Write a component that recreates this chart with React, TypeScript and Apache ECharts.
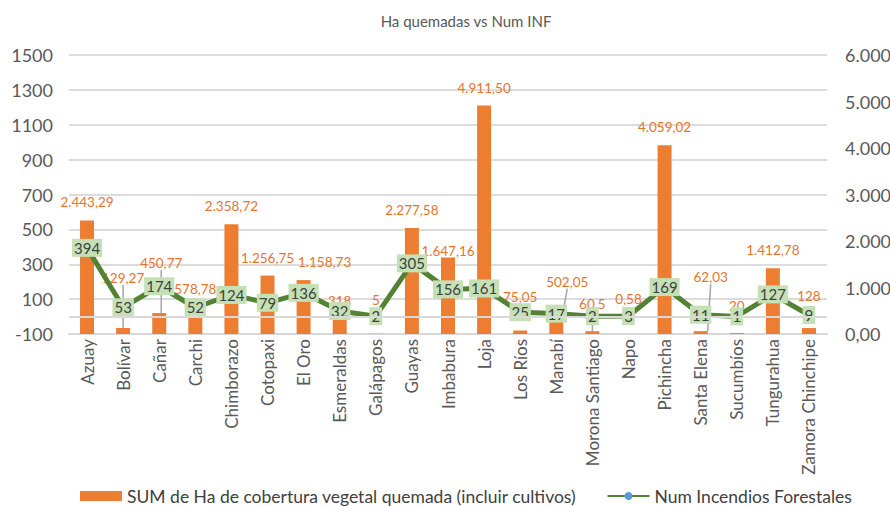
import React, { useEffect, useRef } from "react";
import * as echarts from "echarts";

const categories = [
  "Azuay", "Bolívar", "Cañar", "Carchi", "Chimborazo", "Cotopaxi", "El Oro",
  "Esmeraldas", "Galápagos", "Guayas", "Imbabura", "Loja", "Los Ríos", "Manabí",
  "Morona Santiago", "Napo", "Pichincha", "Santa Elena", "Sucumbíos", "Tungurahua",
  "Zamora Chinchipe",
];

const haQuemadas = [
  2443.29, 129.27, 450.77, 578.78, 2358.72, 1256.75, 1158.73, 318, 5, 2277.58,
  1647.16, 4911.5, 75.05, 502.05, 60.5, 0.58, 4059.02, 62.03, 20, 1412.78, 128,
];

const numIncendios = [
  394, 53, 174, 52, 124, 79, 136, 32, 2, 305, 156, 161, 25, 17, 2, 3, 169, 11, 1, 127, 9,
];

const barLabelDecimals = ["2", "2", "2", "2", "2", "2", "2", "0", "0", "2", "2", "2", "2", "2", "1", "2", "2", "2", "0", "2", "0"];

// label nudges (px) copying the manually placed data labels
const barLabelDx = [0, 0, 2, 0, 0, 0, 21, 0, 0, 0, 0, 0, 0, 11, 0, 0, 0, 10, 0, 0, 0];
const barLabelDy = [0, -32, -32, 0, 0, 0, 0, 0, -16, 0, 12, 0, -16, -11, -9, -17, 0, -36, -9, 0, -14];
const barLabelLeader = [false, true, true, false, false, false, false, false, false, false, false, false, false, true, true, false, false, true, false, false, false];

const fmtEs = (v: number, dec: number) => {
  const fixed = v.toFixed(dec);
  const [ip, dp] = fixed.split(".");
  const withDots = ip.replace(/\B(?=(\d{3})+(?!\d))/g, ".");
  return dp ? withDots + "," + dp : withDots;
};

const FONT = "Lato, 'Open Sans', sans-serif";

export default function App() {
  const ref = useRef<HTMLDivElement>(null);
  useEffect(() => {
    if (!ref.current) return;
    const chart = echarts.init(ref.current, null, { renderer: "svg" });
    chart.setOption({
      animation: false,
      backgroundColor: "#ffffff",
      textStyle: { fontFamily: FONT },
      title: {
        text: "Ha quemadas vs Num INF",
        left: 461,
        top: 8,
        textAlign: "center",
        textStyle: { fontSize: 15, fontWeight: "normal", color: "#595959", fontFamily: FONT },
      },
      legend: {
        left: 80,
        top: 487,
        padding: 0,
        itemWidth: 42,
        itemHeight: 10,
        itemGap: 30,
        textStyle: { fontSize: 17.5, color: "#404040", fontFamily: FONT },
        data: [
          { name: "SUM de Ha de cobertura vegetal quemada (incluir cultivos)", icon: "rect" },
          { name: "Num Incendios Forestales" },
        ],
      },
      grid: { left: 69, right: 63, top: 55, bottom: 172, containLabel: false, outerBoundsMode: "none" },
      xAxis: {
        type: "category",
        data: categories,
        boundaryGap: true,
        axisLine: { show: true, onZero: false, lineStyle: { color: "#D9D9D9", width: 2 } },
        axisTick: { show: false },
        axisLabel: {
          rotate: 90,
          interval: 0,
          fontSize: 17,
          color: "#595959",
          margin: 5,
          fontFamily: FONT,
        },
      },
      yAxis: [
        {
          type: "value",
          min: -100,
          max: 1500,
          interval: 200,
          axisLine: { show: false },
          axisTick: { show: false },
          splitLine: { lineStyle: { color: "#DCDCDC", width: 2 } },
          axisLabel: {
            fontSize: 18,
            color: "#595959",
            margin: 16,
            fontFamily: FONT,
            formatter: (v: number) => String(v),
          },
        },
        {
          type: "value",
          min: 0,
          max: 6000,
          interval: 1000,
          position: "right",
          axisLine: { show: false },
          axisTick: { show: false },
          splitLine: { show: false },
          axisLabel: {
            fontSize: 18,
            color: "#595959",
            margin: 18,
            fontFamily: FONT,
            formatter: (v: number) => fmtEs(v, 2),
          },
        },
      ],
      series: [
        {
          name: "SUM de Ha de cobertura vegetal quemada (incluir cultivos)",
          type: "bar",
          yAxisIndex: 1,
          barWidth: 14,
          itemStyle: { color: "#ED7D31" },
          data: haQuemadas.map((v, i) => ({
            value: v,
            labelLine: {
              show: barLabelLeader[i],
              lineStyle: { color: "#A6A6A6", width: 1.5 },
            },
          })),
          label: {
            show: true,
            position: "top",
            distance: 11,
            fontSize: 13.5,
            color: "#E8742C",
            fontFamily: FONT,
            formatter: (p: any) => fmtEs(p.value, Number(barLabelDecimals[p.dataIndex])),
          },
          labelLine: { show: false, lineStyle: { color: "#A6A6A6", width: 1.5 } },
          labelLayout: (p: any) => ({ dx: barLabelDx[p.dataIndex], dy: barLabelDy[p.dataIndex] }),
        },
        {
          name: "Num Incendios Forestales",
          type: "line",
          yAxisIndex: 0,
          data: numIncendios,
          symbol: "circle",
          symbolSize: 12,
          itemStyle: { color: "#5B9BD5" },
          lineStyle: { color: "#548235", width: 5 },
          z: 3,
          label: {
            show: true,
            position: "inside",
            backgroundColor: "#C5E0B4",
            color: "#404040",
            fontSize: 15,
            padding: [2, 2, 1, 2],
            fontFamily: FONT,
          },
          markLine: {
            silent: true,
            symbol: "none",
            label: { show: false },
            lineStyle: { color: "#D9D9D9", width: 2, type: "solid" },
            data: [{ yAxis: 0 }],
          },
        },
      ],
    });
    return () => chart.dispose();
  }, []);
  return (
    <div
      ref={ref}
      style={{ position: "absolute", left: 0, top: 0, width: 890, height: 506, background: "#fff" }}
    />
  );
}
